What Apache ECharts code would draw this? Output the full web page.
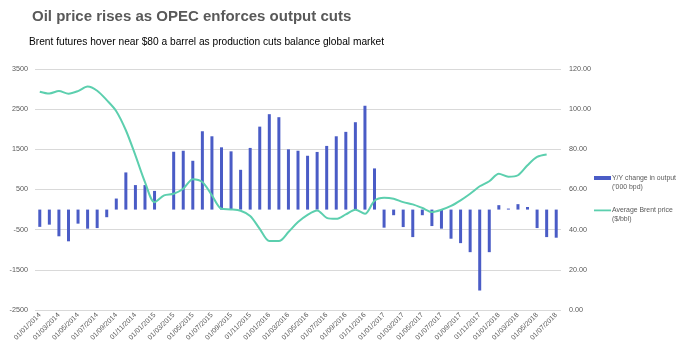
<!DOCTYPE html>
<html>
<head>
<meta charset="utf-8">
<script src="https://cdn.jsdelivr.net/npm/echarts@6/dist/echarts.min.js"></script>
<style>
  html, body { margin: 0; padding: 0; background: #fff; }
  #chart { width: 680px; height: 354px; }
</style>
</head>
<body>
<div id="chart"></div>
<script>
// months, dd/mm/yyyy
const categories = [
  "01/01/2014", "01/02/2014", "01/03/2014", "01/04/2014", "01/05/2014", "01/06/2014",
  "01/07/2014", "01/08/2014", "01/09/2014", "01/10/2014", "01/11/2014", "01/12/2014",
  "01/01/2015", "01/02/2015", "01/03/2015", "01/04/2015", "01/05/2015", "01/06/2015",
  "01/07/2015", "01/08/2015", "01/09/2015", "01/10/2015", "01/11/2015", "01/12/2015",
  "01/01/2016", "01/02/2016", "01/03/2016", "01/04/2016", "01/05/2016", "01/06/2016",
  "01/07/2016", "01/08/2016", "01/09/2016", "01/10/2016", "01/11/2016", "01/12/2016",
  "01/01/2017", "01/02/2017", "01/03/2017", "01/04/2017", "01/05/2017", "01/06/2017",
  "01/07/2017", "01/08/2017", "01/09/2017", "01/10/2017", "01/11/2017", "01/12/2017",
  "01/01/2018", "01/02/2018", "01/03/2018", "01/04/2018", "01/05/2018", "01/06/2018",
  "01/07/2018"
];
// Y/Y change in output ('000 bpd)
const outputChange = [
  -430, -375, -665, -790, -350, -475, -460, -190, 275, 925, 610, 610,
  465, null, 1440, 1465, 1215, 1950, 1825, 1550, 1450, 990, 1535, 2065,
  2375, 2300, 1500, 1465, 1340, 1435, 1585, 1825, 1935, 2175, 2585, 1025,
  -450, -140, -435, -685, -140, -410, -475, -725, -835, -1060, -2015, -1060,
  110, 25, 135, 65, -460, -685, -700
];
// Average Brent price ($/bbl)
const brentPrice = [
  108.7, 107.8, 109.0, 107.7, 109.0, 111.3, 109.2, 104.5, 99.0, 89.5, 77.0, 63.7,
  53.7, 57.1, 57.9, 60.4, 65.1, 63.7, 57.1, 50.4, 50.1, 49.4, 46.8, 40.4,
  34.3, 34.3, 38.8, 43.8, 47.4, 49.6, 45.9, 45.4, 47.6, 49.9, 47.9, 54.4,
  55.9, 55.4, 53.7, 52.6, 50.8, 48.8, 49.9, 51.8, 54.6, 57.9, 61.6, 64.1,
  67.9, 66.4, 67.1, 72.1, 76.2, 77.4, null
];

const font = "'Liberation Sans', Arial, sans-serif";
const grey = "#595959";
const barColor = "#4a5cc6";
const lineColor = "#5ccfae";

const chart = echarts.init(document.getElementById("chart"));
chart.setOption({
  animation: false,
  textStyle: { fontFamily: font },
  title: [
    {
      text: "Oil price rises as OPEC enforces output cuts",
      left: 27, top: 4,
      textStyle: { fontSize: 15, fontWeight: "bold", color: grey, fontFamily: font }
    },
    {
      text: "Brent futures hover near $80 a barrel as production cuts balance global market",
      left: 24, top: 32,
      textStyle: { fontSize: 10.2, fontWeight: "normal", color: "#000", fontFamily: font }
    }
  ],
  grid: { left: 35, right: 119, top: 69, bottom: 44 },
  xAxis: {
    type: "category",
    data: categories,
    axisLine: { show: false },
    axisTick: { show: false },
    axisLabel: {
      interval: 1, rotate: 45, fontSize: 7, color: grey, margin: 4
    }
  },
  yAxis: [
    {
      type: "value",
      min: -2500, max: 3500, interval: 1000,
      axisLine: { show: false },
      axisTick: { show: false },
      axisLabel: { fontSize: 7.2, color: grey, margin: 7, formatter: v => String(v) },
      splitLine: { lineStyle: { color: "#d9d9d9", width: 1 } }
    },
    {
      type: "value",
      min: 0, max: 120, interval: 20,
      axisLine: { show: false },
      axisTick: { show: false },
      axisLabel: {
        fontSize: 7.2, color: grey, margin: 8,
        formatter: v => v.toFixed(2)
      },
      splitLine: { show: false }
    }
  ],
  series: [
    {
      name: "Y/Y change in output ('000 bpd)",
      type: "bar",
      data: outputChange,
      yAxisIndex: 0,
      barWidth: 3,
      itemStyle: { color: barColor }
    },
    {
      name: "Average Brent price ($/bbl)",
      type: "line",
      data: brentPrice,
      yAxisIndex: 1,
      symbol: "none",
      smooth: 0.3,
      lineStyle: { color: lineColor, width: 2 }
    }
  ],
  graphic: [
    { type: "rect", left: 594, top: 176, shape: { width: 17, height: 4 }, style: { fill: barColor } },
    {
      type: "text", left: 612, top: 173.5,
      style: { text: "Y/Y change in output\n('000 bpd)", font: "6.9px " + font, fill: grey, lineHeight: 9 }
    },
    { type: "rect", left: 594, top: 209.5, shape: { width: 17, height: 1.8 }, style: { fill: lineColor } },
    {
      type: "text", left: 612, top: 206,
      style: { text: "Average Brent price\n($/bbl)", font: "6.9px " + font, fill: grey, lineHeight: 9 }
    }
  ]
});
</script>
</body>
</html>
